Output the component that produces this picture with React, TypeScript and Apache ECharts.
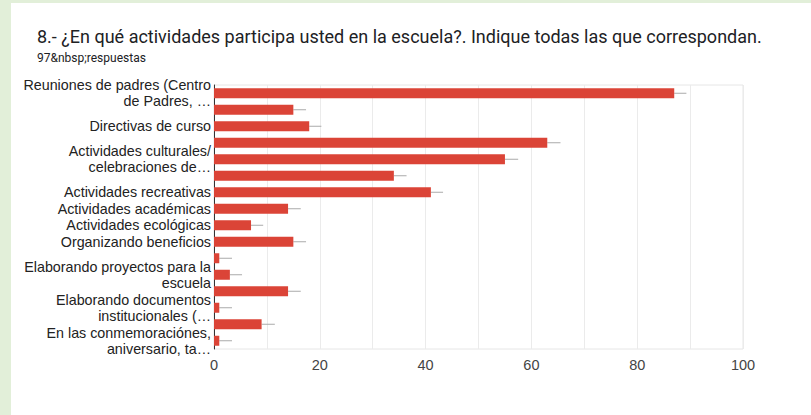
import React, { useEffect, useRef } from "react";
import * as echarts from "echarts";

const categories: string[] = [
  "Reuniones de padres (Centro\nde Padres, …",
  "",
  "Directivas de curso",
  "",
  "Actividades culturales/\ncelebraciones de…",
  "",
  "Actividades recreativas",
  "Actividades académicas",
  "Actividades ecológicas",
  "Organizando beneficios",
  "",
  "Elaborando proyectos para la\nescuela",
  "",
  "Elaborando documentos\ninstitucionales (…",
  "",
  "En las conmemoraciónes,\naniversario, ta…",
];
const values: number[] = [87, 15, 18, 63, 55, 34, 41, 14, 7, 15, 1, 3, 14, 1, 9, 1];
const whiskerEnds: number[] = [89.3, 17.4, 20.3, 65.5, 57.5, 36.4, 43.3, 16.4, 9.3, 17.4, 3.4, 5.3, 16.4, 3.4, 11.5, 3.4];
const xTicks: number[] = [0, 20, 40, 60, 80, 100];

const title = "8.- ¿En qué actividades participa usted en la escuela?. Indique todas las que correspondan.";
const subtitle = "97&nbsp;respuestas";

export default function App() {
  const ref = useRef<HTMLDivElement>(null);
  useEffect(() => {
    document.body.style.margin = "0";
    const chart = echarts.init(ref.current!, null, { renderer: "svg" });
    chart.setOption({
      animation: false,
      backgroundColor: "#ffffff",
      graphic: [
        { type: "rect", left: 0, top: 0, shape: { width: 11, height: 415 }, style: { fill: "#e2efd9" }, silent: true },
        { type: "rect", left: 0, top: 0, shape: { width: 811, height: 3 }, style: { fill: "#e2efd9" }, silent: true },
        {
          type: "text", left: 37, top: 27,
          style: { text: title, fontFamily: "Roboto", fontSize: 18, fill: "#202124" },
        },
        {
          type: "text", left: 37, top: 52,
          style: { text: subtitle, fontFamily: "Roboto", fontSize: 12, fill: "#202124" },
        },
      ],
      grid: {
        left: 214, right: 68, top: 85, bottom: 66,
        show: true, borderColor: "#e6e6e6", borderWidth: 1, backgroundColor: "transparent",
      },
      xAxis: {
        type: "value", min: 0, max: 100, interval: 10,
        axisLine: { show: false }, axisTick: { show: false },
        splitLine: { show: true, lineStyle: { color: "#ebebeb", width: 1 } },
        axisLabel: {
          fontFamily: "Liberation Sans", fontSize: 14.5, color: "#444", margin: 8,
          formatter: (v: number) => (xTicks.indexOf(v) >= 0 ? String(v) : ""),
        },
      },
      yAxis: {
        type: "category", data: categories, inverse: true,
        axisLine: { show: true, lineStyle: { color: "#333", width: 1 } },
        axisTick: { show: false },
        axisLabel: {
          interval: 0, fontFamily: "Liberation Sans", fontSize: 14.3, color: "#222",
          margin: 3, lineHeight: 16, align: "right",
        },
      },
      series: [
        {
          type: "custom",
          z: 1,
          renderItem: (params: any, api: any) => {
            const idx = api.value(0);
            const p1 = api.coord([api.value(1), idx]);
            const p2 = api.coord([api.value(2), idx]);
            return {
              type: "line",
              shape: { x1: p1[0], y1: p1[1], x2: p2[0], y2: p2[1] },
              style: { stroke: "#aaaaaa", lineWidth: 1 },
            };
          },
          encode: { x: [1, 2], y: 0 },
          data: values.map((v, i) => [i, v, whiskerEnds[i]]),
        },
        {
          type: "bar", z: 2,
          data: values,
          barWidth: 10,
          itemStyle: { color: "#db4437" },
        },
      ],
    });
    return () => chart.dispose();
  }, []);
  return <div ref={ref} style={{ position: "absolute", left: 0, top: 0, width: 811, height: 415 }} />;
}
